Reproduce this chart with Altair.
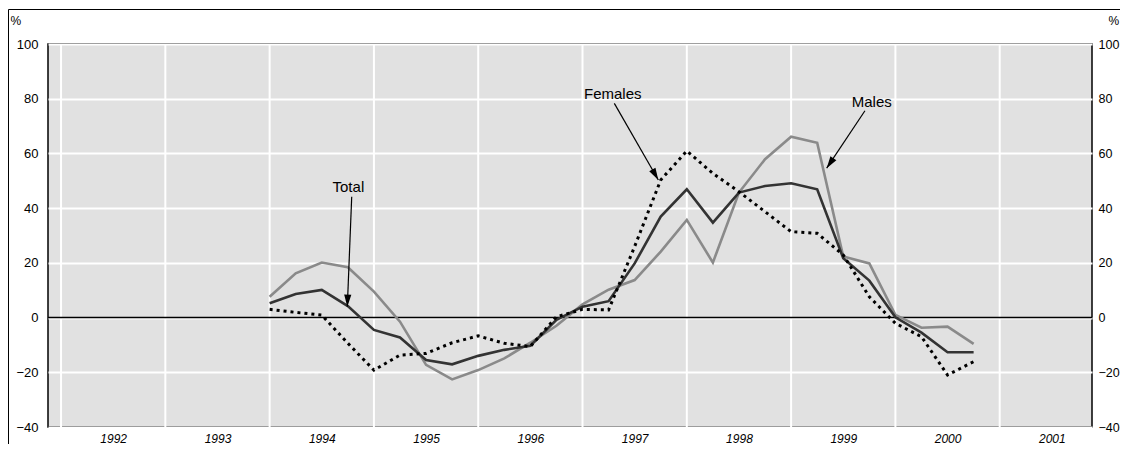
import altair as alt
import pandas as pd

# quarterly time points (year fraction)
quarters = [1994.0, 1994.25, 1994.5, 1994.75, 1995.0, 1995.25, 1995.5, 1995.75,
            1996.0, 1996.25, 1996.5, 1996.75, 1997.0, 1997.25, 1997.5, 1997.75,
            1998.0, 1998.25, 1998.5, 1998.75, 1999.0, 1999.25, 1999.5, 1999.75,
            2000.0, 2000.25, 2000.5, 2000.75]
total = [5.2, 8.6, 10.1, 4.2, -4.5, -7.3, -15.5, -17.1, -14.0, -11.8, -10.3, -0.8,
         4.0, 6.0, 19.8, 36.9, 46.9, 34.7, 45.7, 48.1, 49.1, 46.9, 21.7, 13.5,
         0.1, -5.5, -12.7, -12.7]
males = [7.6, 16.2, 20.1, 18.4, 9.5, -1.5, -17.3, -22.6, -19.2, -14.9, -9.2, -3.0,
         4.8, 10.2, 13.7, 24.1, 35.7, 20.1, 45.7, 57.9, 66.1, 63.9, 22.3, 19.8,
         1.0, -3.7, -3.3, -9.6]
females = [3.0, 1.9, 0.9, -9.4, -19.2, -13.7, -13.1, -9.2, -6.7, -9.4, -10.6, 0.3,
           3.0, 2.8, 26.0, 50.3, 60.9, 52.7, 46.0, 38.7, 31.4, 30.8, 22.9, 7.6,
           -2.1, -7.0, -21.0, -16.1]

year_bounds = [1992, 1993, 1994, 1995, 1996, 1997, 1998, 1999, 2000, 2001]
year_labels = [1992.5, 1993.5, 1994.5, 1995.5, 1996.5, 1997.5, 1998.5, 1999.5, 2000.5, 2001.5]
y_ticks = [-40, -20, 0, 20, 40, 60, 80, 100]

ann_labels = ["Total", "Females", "Males"]
ann_text_x = [1994.755, 1997.29, 1999.773]
ann_text_y = [47.8, 81.7, 78.7]
ann_start_x = [1994.787, 1997.305, 1999.708]
ann_start_y = [44.2, 78.3, 75.6]
ann_tip_x = [1994.745, 1997.727, 1999.341]
ann_tip_y = [4.0, 50.3, 54.6]
ann_angle = [182, 150, 214]

W, H = 1044, 383
XDOM = [1991.875, 2001.885]
YDOM = [-40, 100]
FONT = "Liberation Sans"

df = pd.DataFrame({"t": quarters, "Total": total, "Males": males, "Females": females})
ann = pd.DataFrame({"label": ann_labels, "tx": ann_text_x, "ty": ann_text_y,
                    "sx": ann_start_x, "sy": ann_start_y,
                    "px": ann_tip_x, "py": ann_tip_y, "ang": ann_angle})

xs = alt.Scale(domain=XDOM, nice=False, zero=False)
ys = alt.Scale(domain=YDOM, nice=False, zero=False)

x_axis = alt.Axis(values=year_labels, labelExpr="'' + floor(datum.value)", title=None,
                  grid=False, ticks=False, domain=False, labelFontStyle="italic",
                  labelFont=FONT, labelFontSize=12, labelPadding=6, labelColor="#000")
y_left = alt.Axis(values=y_ticks, title="%", titleAngle=0, titleX=-38, titleY=-24,
                  titleAlign="left", titleBaseline="middle", titleFont=FONT,
                  titleFontSize=12, titleFontWeight="normal", titleColor="#000",
                  grid=True, gridColor="white", gridWidth=2, gridOpacity=1,
                  ticks=False, domain=False,
                  labelFont=FONT, labelFontSize=13, labelPadding=10, labelColor="#000")
y_right = alt.Axis(values=y_ticks, orient="right", title="%", titleAngle=0, titleX=16,
                   titleY=-24, titleAlign="left", titleBaseline="middle", titleFont=FONT,
                   titleFontSize=12, titleFontWeight="normal", titleColor="#000",
                   grid=False, ticks=False, domain=False,
                   labelFont=FONT, labelFontSize=12.5, labelPadding=6, labelColor="#000")

base = alt.Chart(df)

vgrid = alt.Chart(pd.DataFrame({"yr": year_bounds})).mark_rule(
    color="white", strokeWidth=2).encode(x=alt.X("yr:Q", scale=xs, axis=x_axis))

zero = alt.Chart(pd.DataFrame({"z": [0]})).mark_rule(color="black", strokeWidth=1.5).encode(
    y=alt.Y("z:Q", scale=ys, axis=y_left))

males_l = base.mark_line(color="#8a8a8a", strokeWidth=2.6).encode(
    x=alt.X("t:Q", scale=xs), y=alt.Y("Males:Q", scale=ys))
total_l = base.mark_line(color="#333333", strokeWidth=2.6).encode(
    x=alt.X("t:Q", scale=xs), y=alt.Y("Total:Q", scale=ys))
fem_l = base.mark_line(color="#000000", strokeWidth=3, strokeDash=[3, 4]).encode(
    x=alt.X("t:Q", scale=xs), y=alt.Y("Females:Q", scale=ys))

annb = alt.Chart(ann)
ann_text = annb.mark_text(font=FONT, fontSize=15, color="#000", baseline="middle").encode(
    x=alt.X("tx:Q", scale=xs), y=alt.Y("ty:Q", scale=ys), text="label:N")
ann_shaft = annb.mark_rule(color="#000", strokeWidth=1.2).encode(
    x=alt.X("sx:Q", scale=xs), y=alt.Y("sy:Q", scale=ys), x2="px:Q", y2="py:Q")
ann_head = annb.mark_point(shape="M0,0L-0.3,1L0.3,1Z", filled=True, color="#000",
                           opacity=1, size=576).encode(
    x=alt.X("px:Q", scale=xs), y=alt.Y("py:Q", scale=ys), angle=alt.Angle("ang:Q", scale=None))

right_axis = alt.Chart(pd.DataFrame({"z": [0]})).mark_rule(opacity=0).encode(
    y=alt.Y("z:Q", scale=ys, axis=y_right))

frame = alt.Chart(pd.DataFrame({"a": [0]})).mark_rect(
    fillOpacity=0, stroke="black", strokeWidth=1, clip=False).encode(
    x=alt.value(-39.5), y=alt.value(-34.5), x2=alt.value(W + 200), y2=alt.value(H + 200))

left = alt.layer(vgrid, zero, males_l, total_l, fem_l, ann_shaft, ann_head, ann_text, frame)
chart = alt.layer(left, right_axis).resolve_scale(y="independent").properties(
    width=W, height=H,
    background="white",
    autosize=alt.AutoSizeParams(type="none"),
    padding={"left": 40, "top": 36, "right": 28, "bottom": 17},
).configure_view(fill="#e1e1e1", stroke="black", strokeWidth=1.5)

chart.save("out.html", embed_options={"renderer": "svg", "actions": False})
